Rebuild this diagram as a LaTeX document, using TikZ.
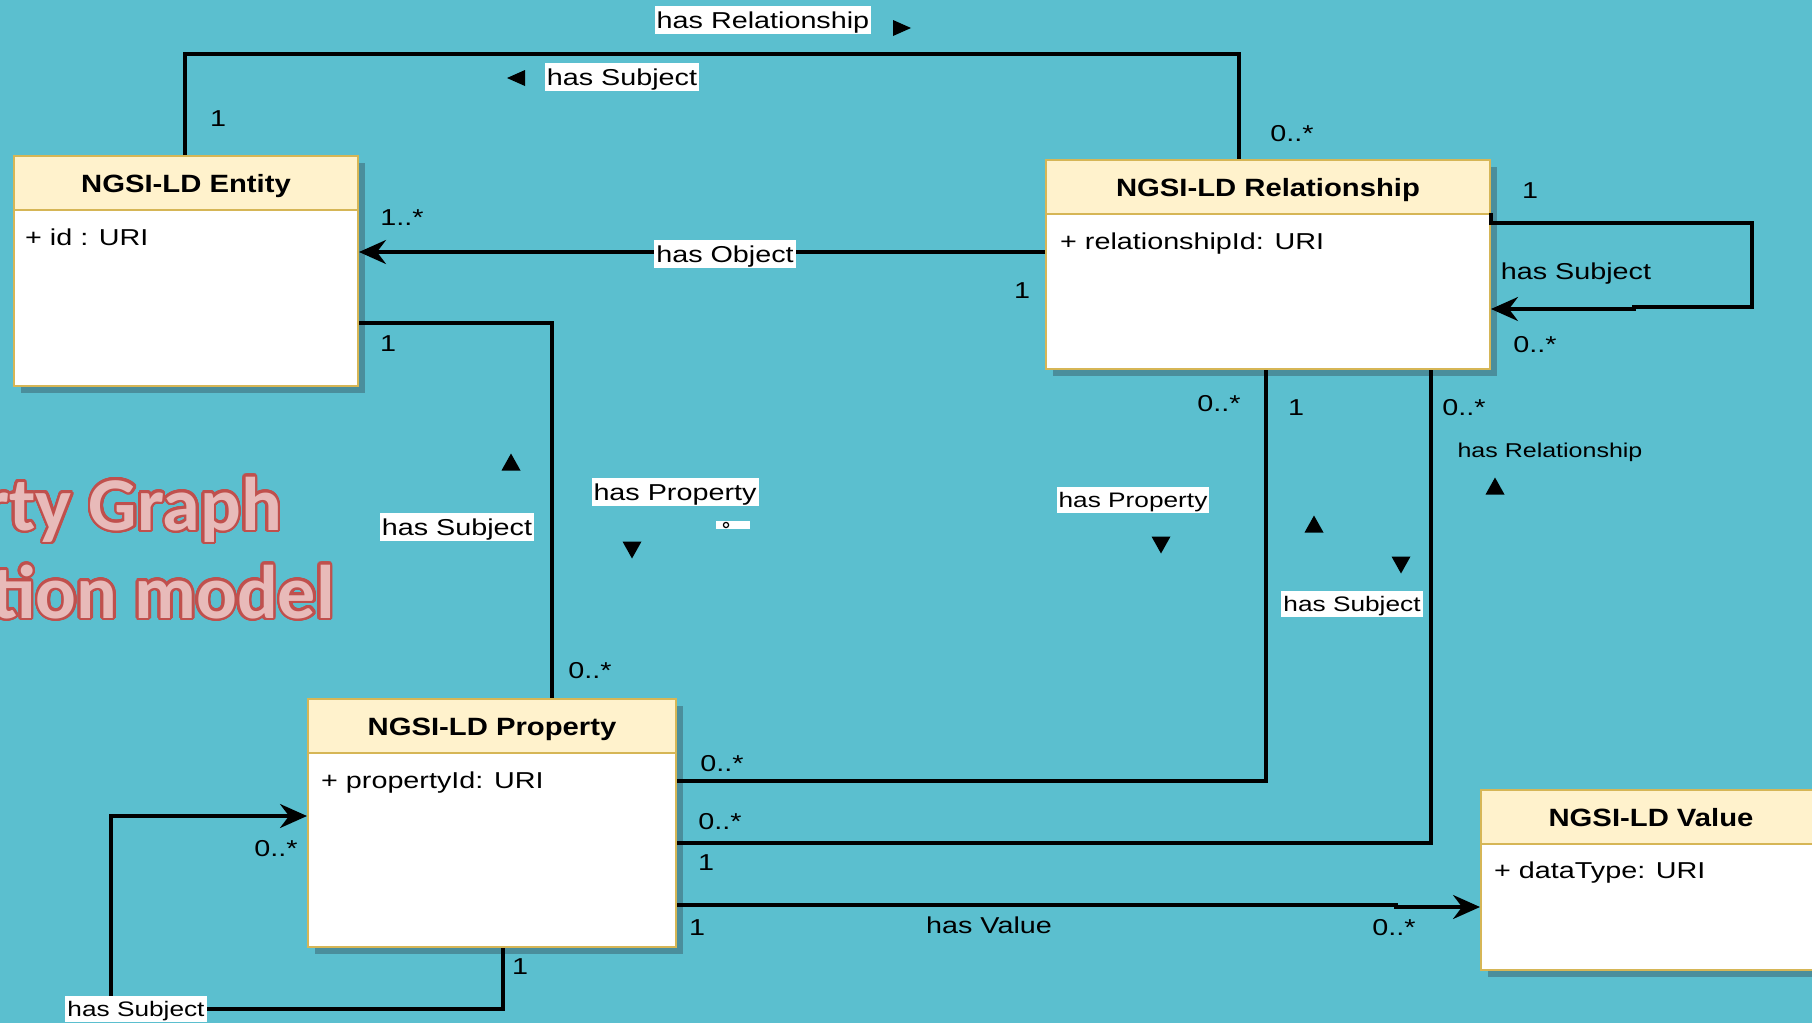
\documentclass[tikz,border=0pt]{standalone}
\usepackage{fontspec}
\usepackage{contour}
\usetikzlibrary{arrows.meta,calc,shadows}
\setmainfont{Liberation Sans}
\newfontfamily\lblfont[FakeStretch=1.25]{Liberation Sans}
\newfontfamily\hdrfont[FakeStretch=1.17]{Liberation Sans}
\newfontfamily\ttlfont{Carlito}
\definecolor{bgcol}{HTML}{5BBFCF}
\definecolor{hdrfill}{HTML}{FFF2CC}
\definecolor{hdrdraw}{HTML}{D6B656}
\definecolor{shadowcol}{HTML}{4A8E9C}
\definecolor{ttlout}{HTML}{C0504D}
\definecolor{ttlfill}{HTML}{E8BAB9}
\contourlength{2.6pt}
\contournumber{32}
\begin{document}
\begin{tikzpicture}[x=1pt,y=-1pt,
  lbl/.style={font=\lblfont\fontsize{23}{27}\selectfont, inner sep=0pt, text height=20pt, text depth=3pt},
  lblsm/.style={font=\lblfont\fontsize{21}{25}\selectfont, inner sep=0pt, text height=18.5pt, text depth=3pt},
  wlbl/.style={lbl, fill=white, inner xsep=2pt, inner ysep=2.5pt},
  wlblsm/.style={lblsm, fill=white, inner xsep=2pt, inner ysep=2.5pt},
  smalllbl/.style={font=\lblfont\fontsize{20}{24}\selectfont, inner sep=0pt, text height=17pt, text depth=2.5pt},
  conn/.style={line width=3.3pt},
  arr/.style={-{Stealth[length=27pt,width=24pt,inset=9pt]}},
  body/.style={draw=hdrdraw, line width=2pt, fill=white, anchor=north west, inner sep=0pt,
    drop shadow={shadow xshift=7pt, shadow yshift=-7pt, fill=shadowcol, opacity=1}},
  head/.style={draw=hdrdraw, line width=2pt, fill=hdrfill, anchor=north west, inner sep=0pt,
    minimum height=54pt, text height=21pt, text depth=3pt, font=\hdrfont\bfseries\fontsize{25}{30}\selectfont},
  attr/.style={lbl, anchor=west},
  ttl/.style={font=\ttlfont\bfseries\fontsize{76}{90}\selectfont, text=ttlfill, anchor=base east, inner sep=0pt},
  triup/.pic={\fill (-9.5,8.5) -- (9.5,8.5) -- (0,-8.5) -- cycle;},
  tridown/.pic={\fill (-9.5,-8.5) -- (9.5,-8.5) -- (0,8.5) -- cycle;},
  trileft/.pic={\fill (9,-8) -- (9,8) -- (-9,0) -- cycle;},
  triright/.pic={\fill (-9,-8) -- (-9,8) -- (9,0) -- cycle;}
]
\fill[bgcol, use as bounding box] (0,0) rectangle (1812,1023);

\begin{scope}
\clip (0,0) rectangle (1812,1023);
% title text
\node[ttl] (t1) at (282,530) {\contour{ttlout}{Property Graph}};
\node[ttl] (t2) at (335,618) {\contour{ttlout}{Information model}};

% boxes
\node[body, minimum width=344pt, minimum height=230pt] (ent) at (13,155) {};
\node[head, minimum width=344pt] (enth) at (13,155) {NGSI-LD Entity};
\node[attr] (enta) at (25,237) {+ id : URI};

\node[body, minimum width=444pt, minimum height=209pt] (rel) at (1045,159) {};
\node[head, minimum width=444pt] (relh) at (1045,159) {NGSI-LD Relationship};
\node[attr] (rela) at (1060,241) {+ relationshipId: URI};

\node[body, minimum width=368pt, minimum height=248pt] (prop) at (307,698) {};
\node[head, minimum width=368pt] (proph) at (307,698) {NGSI-LD Property};
\node[attr] (propa) at (321,780) {+ propertyId: URI};

\node[body, minimum width=340pt, minimum height=180pt] (val) at (1480,789) {};
\node[head, minimum width=340pt] (valh) at (1480,789) {NGSI-LD Value};
\node[attr] (vala) at (1494,870) {+ dataType: URI};

% connectors
\draw[conn] ($(ent.north west)+(172,0)$) -- ++(0,-101) -| ($(rel.north west)+(194,0)$);
\draw[conn, arr] ($(rel.north west)+(0,93)$) -- ($(ent.north east)+(0,97)$);
\draw[conn] ($(ent.north east)+(0,168)$) -| ($(prop.north west)+(245,0)$);
\draw[conn, arr] ($(rel.north east)+(0,54)$) -- ++(0,10) -- ++(261,0) -- ++(0,84) -- ++(-118,0) -- ++(0,2) -- ($(rel.north east)+(0,150)$);
\draw[conn] ($(rel.south west)+(221,0)$) |- ($(prop.north east)+(0,83)$);
\draw[conn] ($(rel.south west)+(386,0)$) |- ($(prop.north east)+(0,145)$);
\draw[conn, arr] ($(prop.north east)+(0,207)$) -- ++(719,0) -- ++(0,2) -- ($(val.north west)+(0,118)$);
\draw[conn, arr] ($(prop.south west)+(196,0)$) -- ++(0,61) -- ++(-392,0) |- ($(prop.north west)+(0,118)$);
\end{scope}

% white-backed labels
\node[wlbl] (l1) at (763,20) {has Relationship};
\node[wlbl] (l2) at (622,77) {has Subject};
\node[wlbl] (l3) at (725,254) {has Object};
\node[wlbl] (l4) at (457,527) {has Subject};
\node[wlbl] (l5) at (675,492) {has Property};
\node[wlblsm] (l6) at (1133,500) {has Property};
\node[wlblsm] (l7) at (1352,604) {has Subject};
\node[wlblsm] (l8) at (136,1009) {has Subject};
\node[fill=white, minimum width=34pt, minimum height=8pt, inner sep=0pt] (l9) at (733,525) {};
\draw[line width=1.2pt] (726,525) circle (2.6pt);

% plain labels
\node[lbl] (p1) at (1576,271) {has Subject};
\node[smalllbl] (p2) at (1550,450) {has Relationship};
\node[lbl] (p3) at (989,925) {has Value};

% multiplicities
\node[lbl] (m1) at (218,118) {1};
\node[lbl] (m2) at (1292,133) {0..*};
\node[lbl] (m3) at (402,217) {1..*};
\node[lbl] (m4) at (1022,290) {1};
\node[lbl] (m5) at (388,343) {1};
\node[lbl] (m6) at (590,670) {0..*};
\node[lbl] (m7) at (1530,190) {1};
\node[lbl] (m8) at (1535,344) {0..*};
\node[lbl] (m9) at (1219,403) {0..*};
\node[lbl] (m10) at (1296,407) {1};
\node[lbl] (m11) at (1464,407) {0..*};
\node[lbl] (m12) at (722,763) {0..*};
\node[lbl] (m13) at (720,821) {0..*};
\node[lbl] (m14) at (706,862) {1};
\node[lbl] (m15) at (697,927) {1};
\node[lbl] (m16) at (1394,927) {0..*};
\node[lbl] (m17) at (520,966) {1};
\node[lbl] (m18) at (276,848) {0..*};

% direction triangles
\pic at (902,28) {triright};
\pic at (516,78) {trileft};
\pic at (511,462) {triup};
\pic at (632,550) {tridown};
\pic at (1161,545) {tridown};
\pic at (1314,524) {triup};
\pic at (1401,565) {tridown};
\pic at (1495,486) {triup};
\end{tikzpicture}
\end{document}
